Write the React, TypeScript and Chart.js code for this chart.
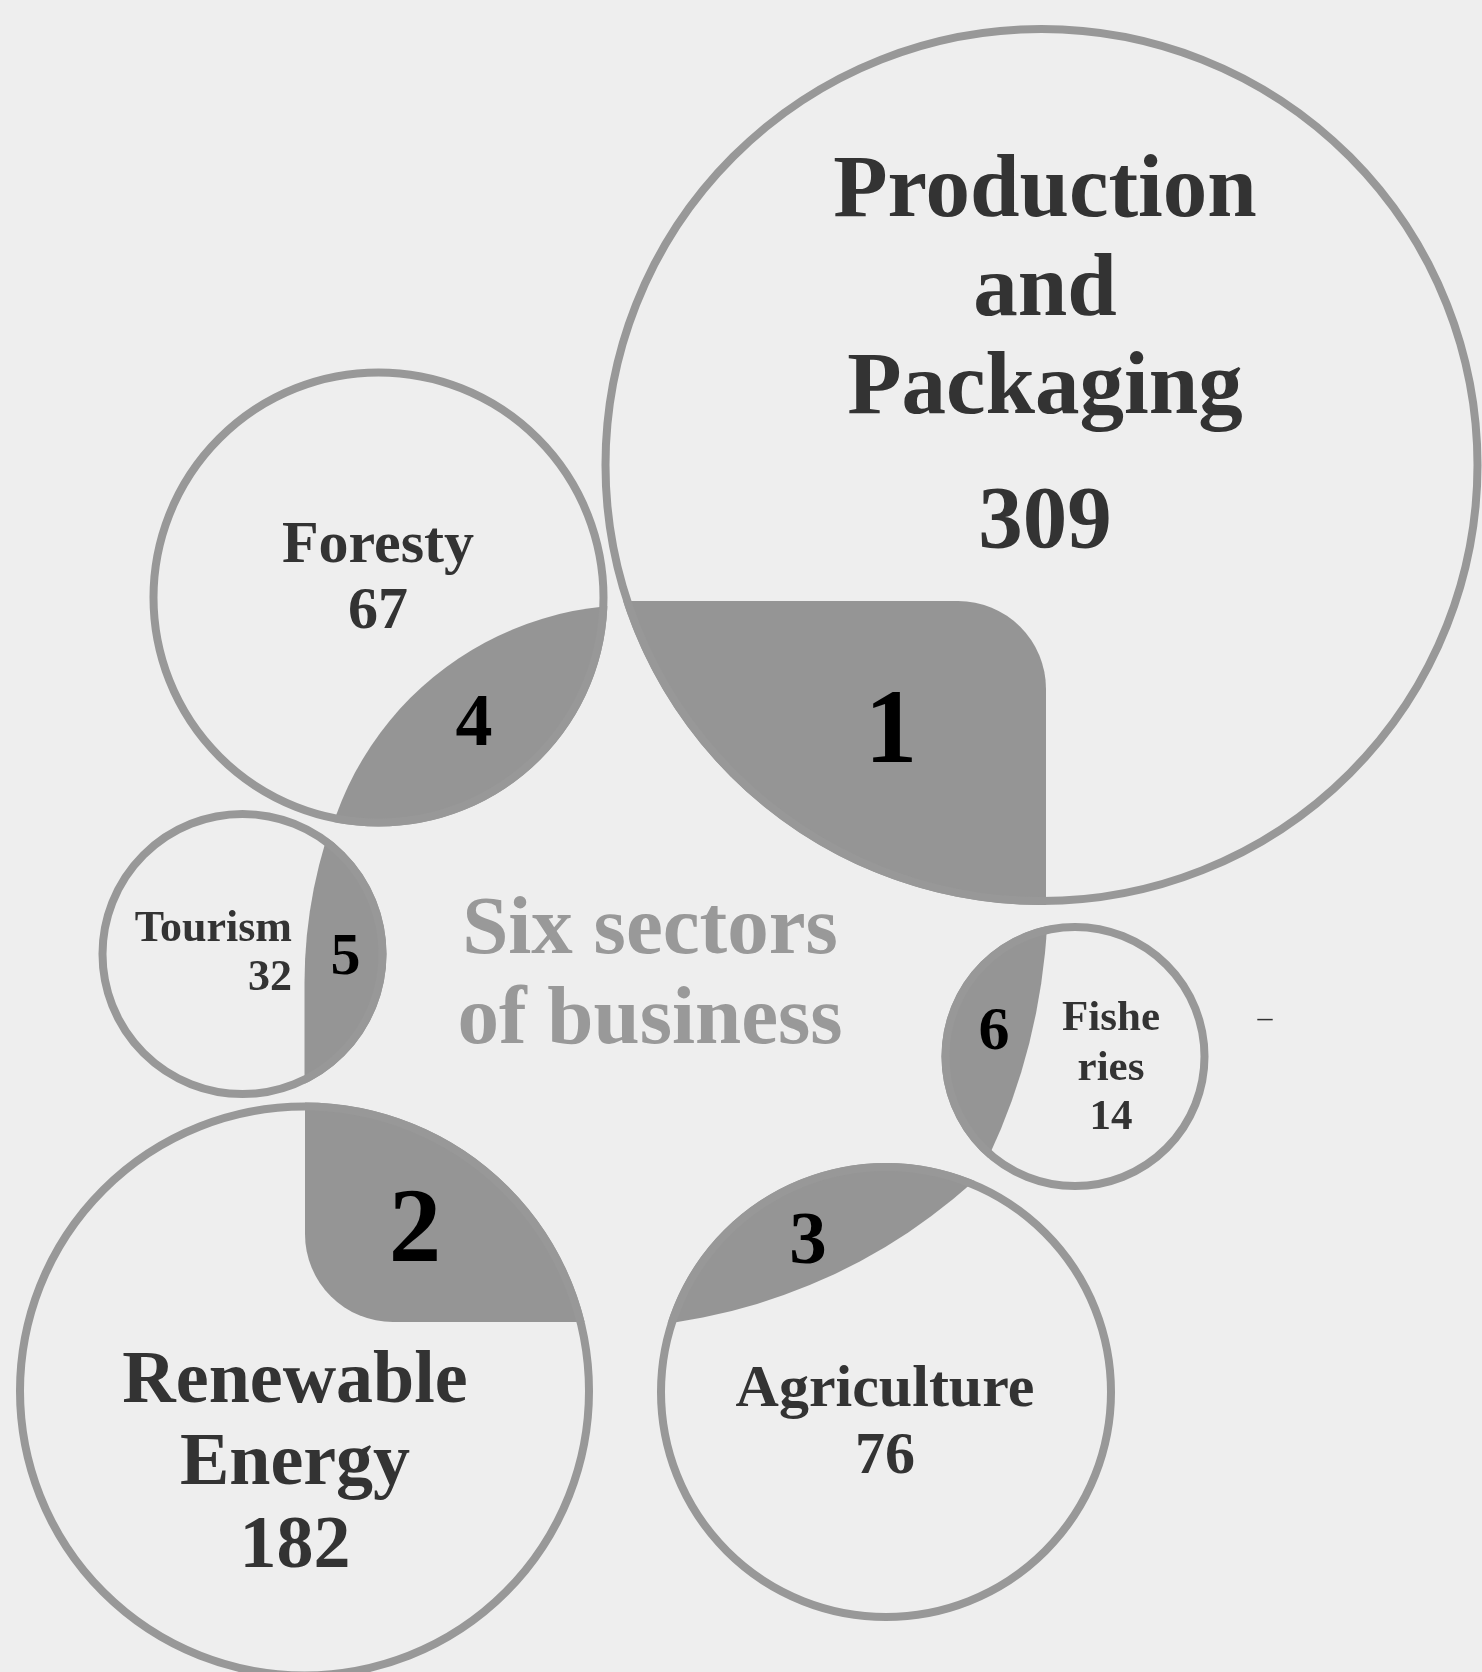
import React, { useEffect, useRef } from 'react';
import { Chart, registerables } from 'chart.js';

Chart.register(...registerables);

// ---------- data ----------
const sectorNames = ['Production and Packaging', 'Foresty', 'Tourism', 'Fisheries', 'Renewable Energy', 'Agriculture'];
const sectorLabelLines = [['Production', 'and', 'Packaging'], ['Foresty'], ['Tourism'], ['Fishe', 'ries'], ['Renewable', 'Energy'], ['Agriculture']];
const sectorCounts = [309, 67, 32, 14, 182, 76];
const sectorRanks = [1, 4, 5, 6, 2, 3];
const titleLines = ['Six sectors', 'of business'];
const strayMark = '\u2013';

// ---------- layout (canvas units) ----------
const W = 1482;
const H = 1672;
const bubbleX = [1041.5, 378.5, 242.5, 1075, 304.5, 886];
const bubbleY = [465, 597.5, 954, 1056.5, 1391, 1392];
const bubbleR = [436, 225, 140, 129.5, 284.5, 225];

type Cutter =
  | { kind: 'rect'; x: number; y: number; w: number; h: number; radii: [number, number, number, number] }
  | { kind: 'circle'; cx: number; cy: number; r: number };

const shadeCutters: Cutter[] = [
  { kind: 'rect', x: 46, y: 601, w: 1000, h: 1000, radii: [0, 88, 0, 0] },
  { kind: 'circle', cx: 634.6, cy: 922, r: 317 },
  { kind: 'rect', x: 304.5, y: 499, w: 600, h: 700, radii: [484, 0, 0, 0] },
  { kind: 'circle', cx: 428, cy: 892, r: 620 },
  { kind: 'rect', x: 305, y: 322, w: 1000, h: 1000, radii: [0, 0, 0, 88] },
  { kind: 'circle', cx: 591.6, cy: 758.5, r: 570 },
];

const rankX = [891, 474, 345.5, 994, 415, 808];
const rankBaseline = [762, 745, 974, 1049, 1261, 1263];
const rankFont = [105, 74, 60, 62, 105, 75];

const labelX = [1045, 378, 292, 1111, 295, 885];
const labelAlign: CanvasTextAlign[] = ['center', 'center', 'right', 'center', 'center', 'center'];
const labelBaselines = [[216, 315, 413, 547], [562, 628], [941, 990], [1030, 1080, 1129], [1402, 1484, 1567], [1406, 1473]];
const labelFont = [89, 60, 44, 43, 74, 60];

const titleX = 650;
const titleBaselines = [953, 1043];
const titleFont = 83;

const strayX = 1265;
const strayBaseline = 1027;
const strayFont = 30;

// ---------- style ----------
const BG = '#eeeeee';
const SHADE = '#959595';
const STROKE = '#989898';
const STROKE_W = 8;
const LABEL_COLOR = '#333333';
const RANK_COLOR = '#000000';
const TITLE_COLOR = '#999999';
const FONT_FAMILY = '"Liberation Serif", "Times New Roman", serif';

function roundRectPath(ctx: CanvasRenderingContext2D, x: number, y: number, w: number, h: number, r: number[]) {
  const [tl, tr, br, bl] = r;
  ctx.moveTo(x + tl, y);
  ctx.lineTo(x + w - tr, y);
  if (tr) ctx.arc(x + w - tr, y + tr, tr, -Math.PI / 2, 0);
  ctx.lineTo(x + w, y + h - br);
  if (br) ctx.arc(x + w - br, y + h - br, br, 0, Math.PI / 2);
  ctx.lineTo(x + bl, y + h);
  if (bl) ctx.arc(x + bl, y + h - bl, bl, Math.PI / 2, Math.PI);
  ctx.lineTo(x, y + tl);
  if (tl) ctx.arc(x + tl, y + tl, tl, Math.PI, Math.PI * 1.5);
  ctx.closePath();
}

function mappers(chart: any) {
  const xs = chart.scales.x;
  const ys = chart.scales.y;
  const X = (v: number) => xs.getPixelForValue(v);
  const Y = (v: number) => ys.getPixelForValue(v);
  const L = (v: number) => Math.abs(xs.getPixelForValue(v) - xs.getPixelForValue(0));
  return { X, Y, L };
}

const infographicPlugin = {
  id: 'sectorInfographic',
  beforeDraw(chart: any) {
    const ctx = chart.ctx as CanvasRenderingContext2D;
    ctx.save();
    ctx.fillStyle = BG;
    ctx.fillRect(0, 0, chart.width, chart.height);
    ctx.restore();
  },
  beforeDatasetsDraw(chart: any) {
    const ctx = chart.ctx as CanvasRenderingContext2D;
    const { X, Y, L } = mappers(chart);
    sectorNames.forEach((_, i) => {
      const c = shadeCutters[i];
      ctx.save();
      ctx.beginPath();
      ctx.arc(X(bubbleX[i]), Y(bubbleY[i]), L(bubbleR[i]) + STROKE_W / 2, 0, Math.PI * 2);
      ctx.clip();
      ctx.beginPath();
      if (c.kind === 'rect') {
        roundRectPath(ctx, X(c.x), Y(c.y), L(c.w), L(c.h), c.radii.map(L));
      } else {
        ctx.arc(X(c.cx), Y(c.cy), L(c.r), 0, Math.PI * 2);
      }
      ctx.fillStyle = SHADE;
      ctx.fill();
      ctx.restore();
    });
  },
  afterDatasetsDraw(chart: any) {
    const ctx = chart.ctx as CanvasRenderingContext2D;
    const { X, Y, L } = mappers(chart);
    ctx.save();
    ctx.textBaseline = 'alphabetic';
    sectorRanks.forEach((rank, i) => {
      ctx.font = `bold ${L(rankFont[i])}px ${FONT_FAMILY}`;
      ctx.fillStyle = RANK_COLOR;
      ctx.textAlign = 'center';
      ctx.fillText(String(rank), X(rankX[i]), Y(rankBaseline[i]));
    });
    sectorLabelLines.forEach((lines, i) => {
      const all = [...lines, String(sectorCounts[i])];
      ctx.font = `bold ${L(labelFont[i])}px ${FONT_FAMILY}`;
      ctx.fillStyle = LABEL_COLOR;
      ctx.textAlign = labelAlign[i];
      all.forEach((t, k) => ctx.fillText(t, X(labelX[i]), Y(labelBaselines[i][k])));
    });
    ctx.font = `bold ${L(titleFont)}px ${FONT_FAMILY}`;
    ctx.fillStyle = TITLE_COLOR;
    ctx.textAlign = 'center';
    titleLines.forEach((t, k) => ctx.fillText(t, X(titleX), Y(titleBaselines[k])));
    ctx.font = `${L(strayFont)}px ${FONT_FAMILY}`;
    ctx.fillStyle = LABEL_COLOR;
    ctx.fillText(strayMark, X(strayX), Y(strayBaseline));
    ctx.restore();
  },
};

export default function App() {
  const ref = useRef<HTMLCanvasElement>(null);
  useEffect(() => {
    document.body.style.margin = '0';
    document.body.style.background = BG;
    const chart = new Chart(ref.current as HTMLCanvasElement, {
      type: 'bubble',
      data: {
        datasets: [
          {
            label: 'Sectors',
            // x/y scales map 1:1 onto canvas pixels, so r (pixels) equals the layout radius
            data: bubbleX.map((x, i) => ({ x, y: bubbleY[i], r: bubbleR[i] })) as any,
            backgroundColor: 'rgba(0,0,0,0)',
            borderColor: STROKE,
            borderWidth: STROKE_W,
            hoverRadius: 0,
            pointStyle: 'circle',
            clip: false as any,
          } as any,
        ],
      },
      options: {
        responsive: false,
        maintainAspectRatio: false,
        animation: false,
        events: [],
        layout: { padding: 0, autoPadding: false },
        plugins: { legend: { display: false }, tooltip: { enabled: false } },
        scales: {
          x: { type: 'linear', min: 0, max: W, display: false },
          y: { type: 'linear', min: 0, max: H, reverse: true, display: false },
        },
      },
      plugins: [infographicPlugin],
    });
    return () => chart.destroy();
  }, []);
  return (
    <div style={{ position: 'absolute', left: 0, top: 0, width: W, height: H, background: BG }}>
      <canvas ref={ref} width={W} height={H} style={{ display: 'block', width: W, height: H }} />
    </div>
  );
}
